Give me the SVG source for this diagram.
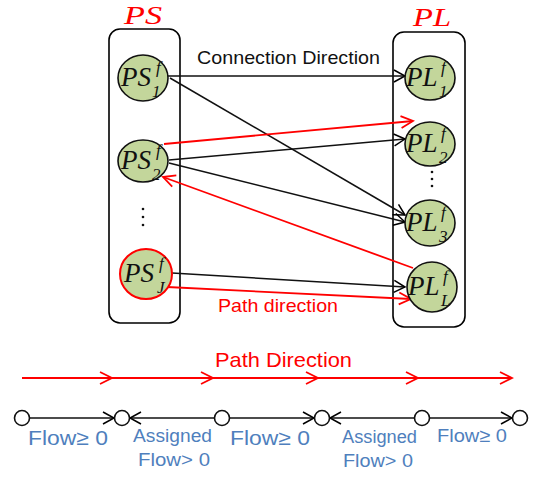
<svg xmlns="http://www.w3.org/2000/svg" width="542" height="477" viewBox="0 0 542 477">
<defs>
<marker id="ab" markerUnits="userSpaceOnUse" markerWidth="14" markerHeight="14" refX="11" refY="6" orient="auto" overflow="visible"><path d="M0,0 L11,6 L0,12" fill="none" stroke="#000" stroke-width="1.5"/></marker>
<marker id="ar" markerUnits="userSpaceOnUse" markerWidth="14" markerHeight="14" refX="12" refY="6" orient="auto" overflow="visible"><path d="M0,0 L12,6 L0,12" fill="none" stroke="#f00" stroke-width="1.8"/></marker>
</defs>
<style>
.box{fill:none;stroke:#000;stroke-width:1.6}
.nd{fill:#c3d69b;stroke:#111;stroke-width:1.6}
.ndr{fill:#c3d69b;stroke:#f00;stroke-width:2}
.m{font-family:"Liberation Serif",serif;font-style:italic;fill:#111}
.big{font-size:27px}
.sm{font-size:17px}
.ttl{font-family:"Liberation Serif",serif;font-style:italic;font-size:25px;fill:#f00}
.eb{stroke:#111;stroke-width:1.5;fill:none;marker-end:url(#ab)}
.er{stroke:#f00;stroke-width:1.8;fill:none;marker-end:url(#ar)}
.lbl{font-family:"Liberation Sans",Arial,sans-serif}
.blue{fill:#4f7fbd;font-family:"Liberation Sans",Arial,sans-serif}
.bc{fill:#fff;stroke:#111;stroke-width:1.6}
.dot{fill:#111}
</style>

<g id="containers">
<rect class="box" x="109" y="29" width="71" height="294" rx="11"/>
<rect class="box" x="393" y="32" width="72" height="295" rx="11"/>
<text class="ttl" x="124" y="24" textLength="38" lengthAdjust="spacingAndGlyphs">PS</text>
<text class="ttl" x="413" y="26" textLength="38" lengthAdjust="spacingAndGlyphs">PL</text>
<circle class="dot" cx="143" cy="209" r="1.3"/><circle class="dot" cx="143" cy="217" r="1.3"/><circle class="dot" cx="143" cy="225" r="1.3"/>
<circle class="dot" cx="432" cy="172" r="1.3"/><circle class="dot" cx="432" cy="179" r="1.3"/><circle class="dot" cx="432" cy="186" r="1.3"/>
</g>

<g id="connectors">
<line class="eb" x1="168" y1="76" x2="405" y2="76"/>
<line class="eb" x1="170" y1="78" x2="405" y2="215"/>
<line class="eb" x1="169" y1="160" x2="405" y2="139"/>
<line class="eb" x1="169" y1="163" x2="405" y2="222"/>
<line class="eb" x1="172" y1="273" x2="405" y2="287"/>
<line class="er" x1="164" y1="144" x2="413" y2="121"/>
<line class="er" x1="413" y1="268" x2="163" y2="177"/>
<line class="er" x1="167" y1="287" x2="411" y2="299"/>
<text class="lbl" x="197" y="64" font-size="19" textLength="183" lengthAdjust="spacingAndGlyphs" fill="#111">Connection Direction</text>
<text class="lbl" x="218" y="312" font-size="19" textLength="120" lengthAdjust="spacingAndGlyphs" fill="#f00">Path direction</text>
</g>

<g id="PS1"><ellipse class="nd" cx="143" cy="78" rx="25" ry="23"/>
<text class="m big" x="121" y="86">PS</text><text class="m sm" x="156" y="73">f</text><text class="m sm" x="152" y="97">1</text></g>
<g id="PS2"><ellipse class="nd" cx="143" cy="161" rx="25" ry="21"/>
<text class="m big" x="121" y="169">PS</text><text class="m sm" x="156" y="156">f</text><text class="m sm" x="152" y="180">2</text></g>
<g id="PSJ"><ellipse class="ndr" cx="146" cy="274" rx="26" ry="25"/>
<text class="m big" x="124" y="282">PS</text><text class="m sm" x="159" y="269">f</text><text class="m sm" x="157" y="293">J</text></g>

<g id="PL1"><ellipse class="nd" cx="430" cy="78" rx="25" ry="22"/>
<text class="m big" x="406" y="86">PL</text><text class="m sm" x="441" y="73">f</text><text class="m sm" x="439" y="97">1</text></g>
<g id="PL2"><ellipse class="nd" cx="430" cy="144" rx="25" ry="22"/>
<text class="m big" x="406" y="152">PL</text><text class="m sm" x="441" y="139">f</text><text class="m sm" x="439" y="163">2</text></g>
<g id="PL3"><ellipse class="nd" cx="430" cy="223" rx="25" ry="23"/>
<text class="m big" x="406" y="231">PL</text><text class="m sm" x="441" y="218">f</text><text class="m sm" x="439" y="242">3</text></g>
<g id="PLL"><ellipse class="nd" cx="432" cy="287" rx="25" ry="25"/>
<text class="m big" x="408" y="295">PL</text><text class="m sm" x="443" y="282">f</text><text class="m sm" x="441" y="306">L</text></g>

<g id="path-direction">
<text class="lbl" x="215" y="367" font-size="21" textLength="137" lengthAdjust="spacingAndGlyphs" fill="#f00">Path Direction</text>
<line x1="22" y1="378" x2="512" y2="378" stroke="#f00" stroke-width="1.8"/>
<path d="M100,372 L112,378 L100,384 M201,372 L213,378 L201,384 M306,372 L318,378 L306,384 M406,372 L418,378 L406,384 M500,372 L512,378 L500,384" fill="none" stroke="#f00" stroke-width="1.8"/>
</g>

<g id="bottom-connectors">
<line class="eb" x1="29" y1="418" x2="114" y2="418"/>
<line class="eb" x1="214" y1="418" x2="130" y2="418"/>
<line class="eb" x1="229" y1="418" x2="314" y2="418"/>
<line class="eb" x1="414" y1="418" x2="330" y2="418"/>
<line class="eb" x1="429" y1="418" x2="512" y2="418"/>
</g>
<g id="n1"><circle class="bc" cx="22" cy="418" r="7.5"/></g>
<g id="n2"><circle class="bc" cx="122" cy="418" r="7.5"/></g>
<g id="n3"><circle class="bc" cx="222" cy="418" r="7.5"/></g>
<g id="n4"><circle class="bc" cx="322" cy="418" r="7.5"/></g>
<g id="n5"><circle class="bc" cx="422" cy="418" r="7.5"/></g>
<g id="n6"><circle class="bc" cx="520" cy="418" r="7.5"/></g>

<g id="labels">
<text class="blue" x="28" y="445" font-size="21" textLength="80" lengthAdjust="spacingAndGlyphs">Flow≥ 0</text>
<text class="blue" x="133" y="442" font-size="18" textLength="79" lengthAdjust="spacingAndGlyphs">Assigned</text>
<text class="blue" x="138" y="466" font-size="19" textLength="72" lengthAdjust="spacingAndGlyphs">Flow&gt; 0</text>
<text class="blue" x="230" y="445" font-size="21" textLength="80" lengthAdjust="spacingAndGlyphs">Flow≥ 0</text>
<text class="blue" x="342" y="443" font-size="18" textLength="75" lengthAdjust="spacingAndGlyphs">Assigned</text>
<text class="blue" x="343" y="467" font-size="19" textLength="70" lengthAdjust="spacingAndGlyphs">Flow&gt; 0</text>
<text class="blue" x="437" y="442" font-size="19" textLength="70" lengthAdjust="spacingAndGlyphs">Flow≥ 0</text>
</g>
</svg>
